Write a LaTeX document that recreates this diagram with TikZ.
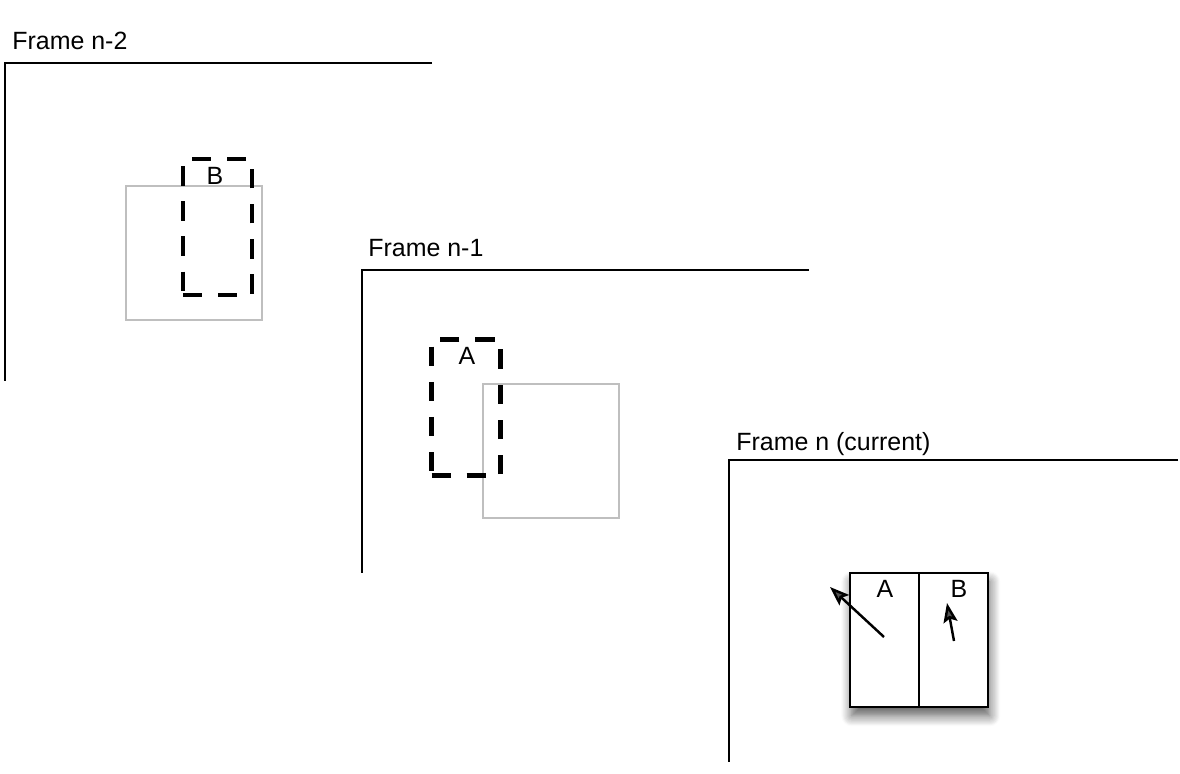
\documentclass[tikz,border=0pt]{standalone}
\usepackage{fontspec}
\setmainfont{Liberation Sans}
\usetikzlibrary{positioning,arrows.meta,shadows.blur}

\tikzset{
  framecorner/.style={line width=1.4pt},
  framelabel/.style={anchor=base west, inner sep=0pt, font=\fontsize{14.2}{16}\selectfont},
  oldbox/.style={draw=black!25, line width=1.3pt, inner sep=0pt, outer sep=0pt,
    minimum width=2.72cm, minimum height=2.68cm},
  ghostbox/.style={draw=black, line width=2.8pt, dash pattern=on 11pt off 9pt, line cap=butt,
    inner sep=0pt, outer sep=0pt, minimum width=1.38cm, minimum height=2.72cm},
  halfbox/.style={draw=black, line width=1.4pt, fill=white, inner sep=0pt, outer sep=0pt,
    minimum width=1.38cm, minimum height=2.68cm},
  boxlabel/.style={inner sep=0pt, font=\fontsize{14.2}{16}\selectfont},
  motion/.style={line width=1.4pt, -{Stealth[length=11pt,width=8pt,inset=2pt]}}
}

\begin{document}
\begin{tikzpicture}[x=0.02cm, y=-0.02cm]
\useasboundingbox (0,0) rectangle (1180,774);

% frame n-2
\coordinate (f2top) at (432,63);
\coordinate (f2corner) at (5,63);
\coordinate (f2bottom) at (5,381);
\draw[framecorner] (f2top) -- (f2corner) -- (f2bottom);
\node[framelabel] (f2label) at (12,50) {Frame n-2};

\node[oldbox] (f2old) at (194,253) {};
\node[ghostbox] (f2ghost) at (217.5,227) {};
\node[boxlabel] (f2B) at (215,176) {B};

% frame n-1
\coordinate (f1top) at (809,270);
\coordinate (f1corner) at (362,270);
\coordinate (f1bottom) at (362,573);
\draw[framecorner] (f1top) -- (f1corner) -- (f1bottom);
\node[framelabel] (f1label) at (368,256) {Frame n-1};

\node[oldbox] (f1old) at (551,451) {};
\node[ghostbox] (f1ghost) at (466,407.5) {};
\node[boxlabel] (f1A) at (467,356) {A};

% frame n
\coordinate (f0top) at (1178,460);
\coordinate (f0corner) at (729,460);
\coordinate (f0bottom) at (729,762);
\draw[framecorner] (f0top) -- (f0corner) -- (f0bottom);
\node[framelabel] (f0label) at (736,450) {Frame n (current)};

\node[halfbox] (curA) at (884.5,640) {};
\node[halfbox] (curB) at (953.5,640) {};
\draw[halfbox, blur shadow={shadow xshift=1pt, shadow yshift=-5pt, shadow blur steps=10, shadow blur radius=6pt, shadow opacity=65}] (curA.north west) rectangle (curB.south east);
\draw[line width=1.4pt] (curA.north east) -- (curA.south east);
\node[boxlabel] (curAlabel) at (885,589) {A};
\node[boxlabel] (curBlabel) at (959,589) {B};

\coordinate (Astart) at (884,637);
\coordinate (Aend) at (830,587);
\coordinate (Bstart) at (954,641);
\coordinate (Bend) at (947,603);
\draw[motion] (Astart) -- (Aend);
\draw[motion] (Bstart) -- (Bend);

\end{tikzpicture}
\end{document}
